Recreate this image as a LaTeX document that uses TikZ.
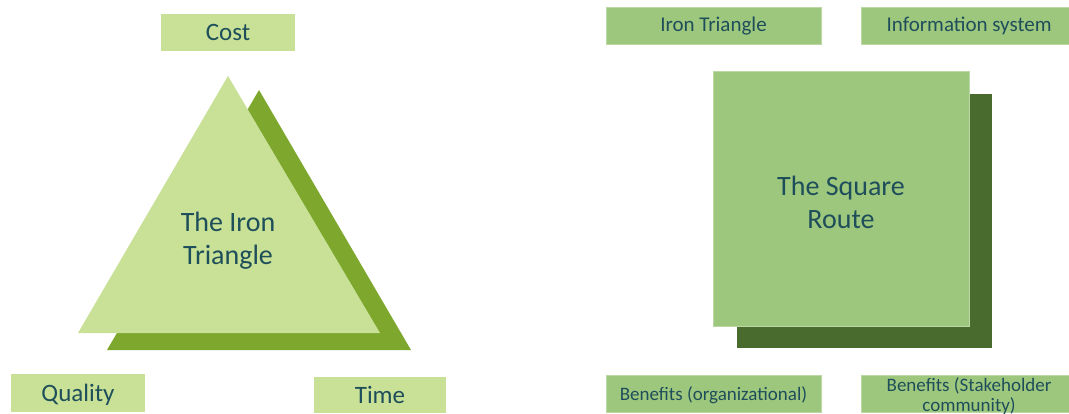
\documentclass[tikz,border=0pt]{standalone}
\usepackage{fontspec}
\setmainfont{Carlito}
\usetikzlibrary{positioning}
\definecolor{paleGreen}{RGB}{200,225,150}
\definecolor{oliveGreen}{RGB}{126,167,46}
\definecolor{sageGreen}{RGB}{158,199,126}
\definecolor{forestGreen}{RGB}{74,107,46}
\definecolor{inkTeal}{RGB}{30,78,90}

\begin{document}
\begin{tikzpicture}[
  x=1pt, y=-1pt,
  corner/.style={
    rectangle, fill=paleGreen, inner sep=0pt,
    minimum width=134pt, minimum height=37pt,
    font=\fontsize{25}{28}\selectfont, text=inkTeal,
    text height=16pt, text depth=0pt
  },
  side/.style={
    rectangle, fill=sageGreen, draw=sageGreen!70!white, line width=0.6pt,
    inner sep=0pt, minimum width=215pt, minimum height=37pt,
    font=\fontsize{#1}{21}\selectfont, text=inkTeal,
    text height=13pt, text depth=0pt
  },
  side/.default=21,
  title/.style={
    align=center, font=\fontsize{28}{33}\selectfont, text=inkTeal
  }
]
  \useasboundingbox (0,0) rectangle (1069,414);

  % iron triangle, shadow first
  \coordinate (tb1) at (259,90);
  \coordinate (tb2) at (107,350);
  \coordinate (tb3) at (411,350);
  \coordinate (tf1) at (228,76);
  \coordinate (tf2) at (78,333);
  \coordinate (tf3) at (380,333);
  \fill[oliveGreen] (tb1) -- (tb2) -- (tb3) -- cycle;
  \fill[paleGreen] (tf1) -- (tf2) -- (tf3) -- cycle;
  \node[title] (ironT) at (228,241) {The Iron\\Triangle};

  \node[corner] (cost) at (228,32.5) {Cost};
  \node[corner, minimum height=38pt] (quality) at (78,393) {Quality};
  \node[corner, minimum width=132pt, minimum height=36pt] (time) at (380,395) {Time};

  % square route, shadow first
  \fill[forestGreen] (737,94) rectangle (992,348);
  \fill[sageGreen, draw=sageGreen!70!white, line width=0.6pt]
    (713,71) rectangle (969,326);
  \node[title] (squareT) at (841,202) {The Square\\Route};

  \node[side] (iron) at (713.5,25.5) {Iron Triangle};
  \node[side, right=40pt of iron] (info) {Information system};
  \node[side=19, below=331pt of iron] (orgBen) {Benefits (organizational)};
  \node[side] (stakeBen) at (info |- orgBen) {};
  \node[align=center, text=inkTeal, font=\fontsize{19}{20}\selectfont]
    (stakeT) at ([yshift=-1.5pt]stakeBen.center) {Benefits (Stakeholder\\community)};
\end{tikzpicture}
\end{document}
